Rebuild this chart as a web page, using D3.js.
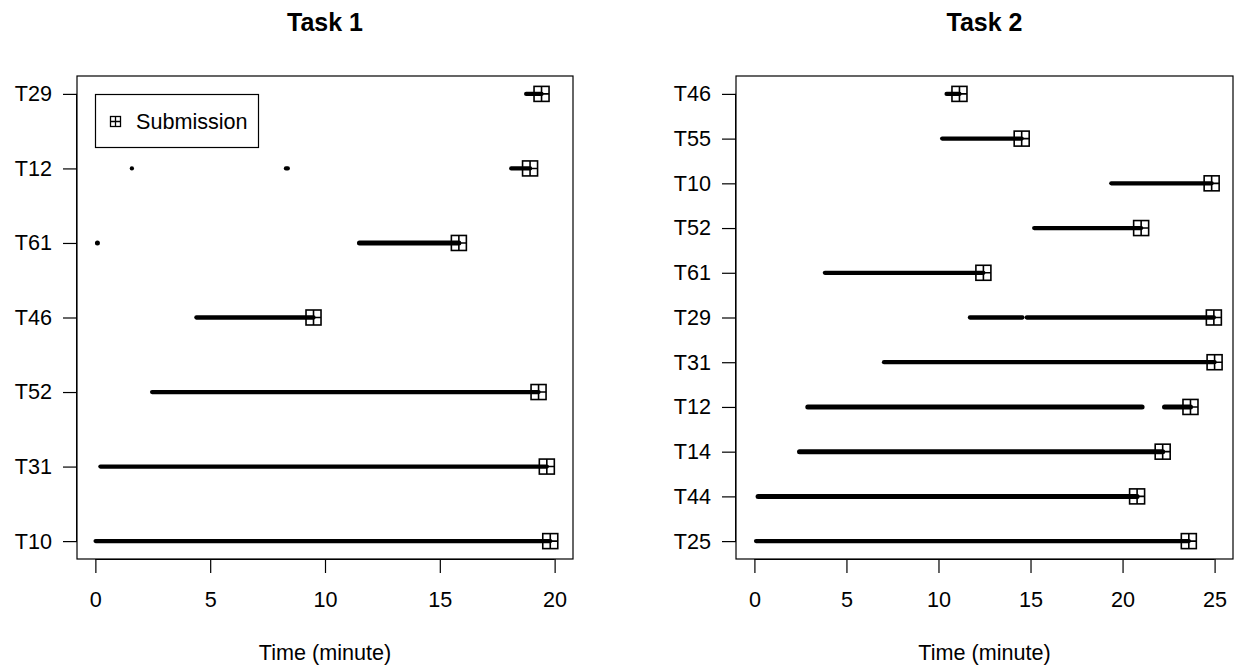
<!DOCTYPE html>
<html>
<head>
<meta charset="utf-8">
<script src="https://cdn.jsdelivr.net/npm/d3@7"></script>
<style>
  body { margin: 0; background: #fff; }
  text { font-family: "Liberation Sans", Arial, sans-serif; fill: #000; }
</style>
</head>
<body>
<svg id="chart" width="1236" height="666"></svg>
<script>
// Task 1 - rows listed bottom to top
const task1Rows = ["T10", "T31", "T52", "T46", "T61", "T12", "T29"]
const task1Segments = [
  [[0.01, 19.81]],
  [[0.22, 19.66]],
  [[2.47, 19.30]],
  [[4.40, 9.50]],
  [[0.09, 0.09], [11.50, 15.83]],
  [[1.59, 1.59], [8.30, 8.38], [18.11, 18.93]],
  [[18.76, 19.43]]
]
const task1Submit = [19.81, 19.66, 19.30, 9.50, 15.83, 18.93, 19.43]
const task1Ticks = [0, 5, 10, 15, 20]

// Task 2 - rows listed bottom to top
const task2Rows = ["T25", "T44", "T14", "T12", "T31", "T29", "T61", "T52", "T10", "T55", "T46"]
const task2Segments = [
  [[0.09, 23.60]],
  [[0.20, 20.79]],
  [[2.45, 22.18]],
  [[2.90, 21.06], [22.28, 23.69]],
  [[7.04, 25.00]],
  [[11.71, 14.56], [14.80, 24.96]],
  [[3.83, 12.44]],
  [[15.20, 21.01]],
  [[19.39, 24.84]],
  [[10.20, 14.52]],
  [[10.44, 11.14]]
]
const task2Submit = [23.60, 20.79, 22.18, 23.69, 25.00, 24.96, 12.44, 21.01, 24.84, 14.52, 11.14]
const task2Ticks = [0, 5, 10, 15, 20, 25]

const svg = d3.select("#chart")
const fontSize = 21.6

function drawPanel(opt) {
  const g = svg.append("g")
  const n = opt.rows.length

  // R style 4% padding on both axes
  const xMax = d3.max(opt.ticks)
  const xPad = xMax * 0.04
  const x = d3.scaleLinear().domain([-xPad, xMax + xPad]).range([opt.left, opt.right])
  const yPad = (n - 1) * 0.04
  const y = d3.scaleLinear().domain([1 - yPad, n + yPad]).range([opt.bottom, opt.top])

  // activity segments
  opt.segments.forEach((segs, i) => {
    g.selectAll(null)
      .data(segs)
      .enter()
      .append("line")
      .attr("x1", d => x(d[0]))
      .attr("x2", d => x(d[1]))
      .attr("y1", y(i + 1))
      .attr("y2", y(i + 1))
      .attr("stroke", "#000")
      .attr("stroke-width", opt.heavy.includes(opt.rows[i]) ? 5 : 4.3)
      .attr("stroke-linecap", "round")
  })

  // submission markers (square with plus)
  const s = 7.5
  const mk = g.selectAll("g.mark")
    .data(opt.submit)
    .enter()
    .append("g")
    .attr("class", "mark")
    .attr("transform", (d, i) => `translate(${x(d)},${y(i + 1)})`)
  mk.append("rect")
    .attr("x", -s).attr("y", -s).attr("width", 2 * s).attr("height", 2 * s)
    .attr("fill", "none").attr("stroke", "#000").attr("stroke-width", 1.6)
  mk.append("path")
    .attr("d", `M${-s},0H${s}M0,${-s}V${s}`)
    .attr("stroke", "#000").attr("stroke-width", 1.6)

  // box
  g.append("rect")
    .attr("x", opt.left).attr("y", opt.top)
    .attr("width", opt.right - opt.left).attr("height", opt.bottom - opt.top)
    .attr("fill", "none").attr("stroke", "#000").attr("stroke-width", 1.2)

  // x axis
  const xAxis = d3.axisBottom(x).tickValues(opt.ticks).tickSize(14).tickPadding(19)
  const xg = g.append("g").attr("transform", `translate(0,${opt.bottom})`).call(xAxis)
  xg.select(".domain").attr("d", `M${x(opt.ticks[0])},0.5H${x(xMax)}`)
  xg.selectAll("line").attr("stroke-width", 1.2)
  xg.selectAll("text").attr("font-size", fontSize).attr("font-family", "Liberation Sans, Arial, sans-serif")

  // y axis
  const yAxis = d3.axisLeft(y).tickValues(d3.range(1, n + 1)).tickFormat(d => opt.rows[d - 1])
    .tickSize(14).tickPadding(11)
  const yg = g.append("g").attr("transform", `translate(${opt.left},0)`).call(yAxis)
  yg.select(".domain").attr("d", `M-0.5,${y(1)}V${y(n)}`)
  yg.selectAll("line").attr("stroke-width", 1.2)
  yg.selectAll("text").attr("font-size", fontSize).attr("font-family", "Liberation Sans, Arial, sans-serif")

  const cx = (opt.left + opt.right) / 2
  g.append("text")
    .attr("x", cx).attr("y", 31)
    .attr("text-anchor", "middle")
    .attr("font-size", 25).attr("font-weight", "bold")
    .text(opt.title)

  g.append("text")
    .attr("x", cx).attr("y", 660)
    .attr("text-anchor", "middle")
    .attr("font-size", fontSize)
    .text("Time (minute)")

  return { x, y, g }
}

const p1 = drawPanel({
  title: "Task 1", rows: task1Rows, segments: task1Segments, submit: task1Submit, ticks: task1Ticks,
  heavy: ["T61"], left: 77, right: 573, top: 76, bottom: 559
})

drawPanel({
  title: "Task 2", rows: task2Rows, segments: task2Segments, submit: task2Submit, ticks: task2Ticks,
  heavy: ["T12", "T14", "T44"], left: 736, right: 1233, top: 76, bottom: 559
})

// legend
const lg = p1.g.append("g")
lg.append("rect")
  .attr("x", 95.5).attr("y", 94.5).attr("width", 163).attr("height", 53)
  .attr("fill", "#fff").attr("stroke", "#000").attr("stroke-width", 1.2)
lg.append("rect")
  .attr("x", 110.5).attr("y", 116.5).attr("width", 10).attr("height", 10)
  .attr("fill", "none").attr("stroke", "#000").attr("stroke-width", 1.3)
lg.append("path")
  .attr("d", "M110.5,121.5H120.5M115.5,116.5V126.5")
  .attr("stroke", "#000").attr("stroke-width", 1.3)
lg.append("text")
  .attr("x", 136).attr("y", 129)
  .attr("font-size", fontSize)
  .text("Submission")
</script>
</body>
</html>
